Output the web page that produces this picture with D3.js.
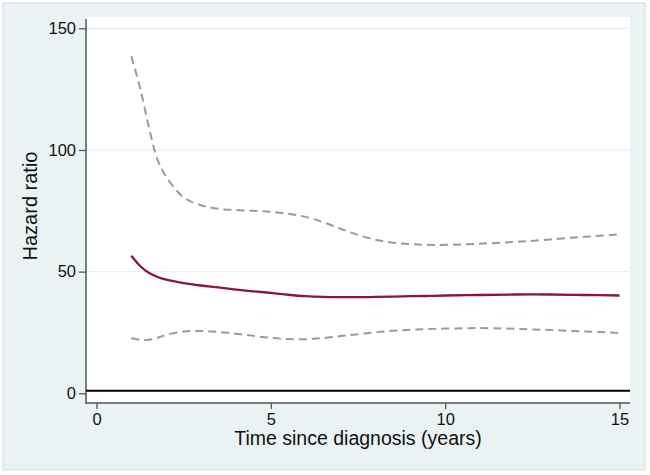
<!DOCTYPE html>
<html>
<head>
<meta charset="utf-8">
<script src="https://cdn.jsdelivr.net/npm/d3@7"></script>
<style>
  html, body { margin: 0; padding: 0; background: #fff; }
  svg { display: block; font-family: "Liberation Sans", Arial, Helvetica, sans-serif; }
</style>
</head>
<body>
<svg id="chart" width="650" height="475"></svg>
<script>
// ---- data ----
const years = [1, 1.25, 1.5, 1.75, 2, 2.5, 3, 3.5, 4, 4.5, 5, 5.5, 6, 6.5, 7, 7.5, 8, 8.5, 9, 9.5, 10, 11, 12, 13, 14, 15];
const hazardRatio = [56.5, 52.3, 49.5, 47.8, 46.7, 45.3, 44.3, 43.5, 42.6, 41.9, 41.3, 40.5, 39.9, 39.6, 39.5, 39.5, 39.6, 39.7, 39.9, 40.0, 40.2, 40.4, 40.6, 40.6, 40.4, 40.2];
const upperCI    = [138.5, 125.5, 109.6, 96, 89, 80.5, 77.3, 75.8, 75.3, 75, 74.6, 73.8, 72.5, 70.3, 67.6, 65.1, 63.1, 61.9, 61.3, 61, 61, 61.5, 62.2, 63.2, 64.3, 65.3];
const lowerCI    = [22.6, 22, 22, 22.8, 24, 25.4, 25.6, 25.2, 24.5, 23.6, 22.8, 22.3, 22.2, 22.7, 23.5, 24.3, 25.1, 25.7, 26.1, 26.4, 26.6, 26.8, 26.5, 26, 25.4, 24.8];
const xTicks = [0, 5, 10, 15];
const yTicks = [0, 50, 100, 150];
const refValue = 1;
const xTitle = "Time since diagnosis (years)";
const yTitle = "Hazard ratio";

// ---- layout ----
const svg = d3.select("#chart");
const plot = { left: 86, right: 630, top: 17, bottom: 403 };

const x = d3.scaleLinear().domain([0, 15]).range([96.5, 619.5]);
const y = d3.scaleLinear().domain([0, 150]).range([393.3, 28.3]);

// outer background
svg.append("rect").attr("x", 3).attr("y", 3).attr("width", 642).attr("height", 467)
  .attr("fill", "#eaf2f3").attr("stroke", "#d6dcdd").attr("stroke-width", 1);

// plot region
svg.append("rect").attr("x", plot.left).attr("y", plot.top)
  .attr("width", plot.right - plot.left).attr("height", plot.bottom - plot.top)
  .attr("fill", "#ffffff");

// gridlines
svg.append("g").selectAll("line").data(yTicks.filter(d => d > 0)).join("line")
  .attr("x1", plot.left).attr("x2", plot.right)
  .attr("y1", d => y(d)).attr("y2", d => y(d))
  .attr("stroke", "#e6eff0").attr("stroke-width", 1.2);

// y axis
const yAxis = d3.axisLeft(y).tickValues(yTicks).tickSize(7).tickPadding(3).tickFormat(d3.format("d"));
const gy = svg.append("g").attr("transform", `translate(${plot.left},0)`).call(yAxis);
gy.select(".domain").remove();
gy.selectAll(".tick line").attr("stroke", "#555").attr("stroke-width", 1.3);
gy.selectAll(".tick text").attr("font-size", 16.5).attr("fill", "#111")
  .attr("font-family", "'Liberation Sans', Arial, sans-serif");
svg.append("line").attr("x1", plot.left).attr("x2", plot.left)
  .attr("y1", plot.top + 2).attr("y2", plot.bottom + 1)
  .attr("stroke", "#555").attr("stroke-width", 1.5);

// x axis
const xAxis = d3.axisBottom(x).tickValues(xTicks).tickSize(6).tickPadding(4).tickFormat(d3.format("d"));
const gx = svg.append("g").attr("transform", `translate(0,${plot.bottom})`).call(xAxis);
gx.select(".domain").remove();
gx.selectAll(".tick line").attr("stroke", "#555").attr("stroke-width", 1.3);
gx.selectAll(".tick text").attr("font-size", 16.5).attr("fill", "#111")
  .attr("font-family", "'Liberation Sans', Arial, sans-serif");
svg.append("line").attr("x1", plot.left).attr("x2", plot.right)
  .attr("y1", plot.bottom).attr("y2", plot.bottom)
  .attr("stroke", "#555").attr("stroke-width", 1.5);

// reference line at HR = 1
svg.append("line").attr("x1", plot.left).attr("x2", plot.right)
  .attr("y1", y(refValue)).attr("y2", y(refValue))
  .attr("stroke", "#000").attr("stroke-width", 2);

// lines
const line = vals => d3.line()
  .x((d, i) => x(years[i]))
  .y(d => y(d))
  .curve(d3.curveCatmullRom.alpha(0.5))(vals);

svg.append("path").attr("d", line(upperCI)).attr("fill", "none")
  .attr("stroke", "#9a9a9a").attr("stroke-width", 2).attr("stroke-dasharray", "8,5");
svg.append("path").attr("d", line(lowerCI)).attr("fill", "none")
  .attr("stroke", "#9a9a9a").attr("stroke-width", 2).attr("stroke-dasharray", "8,5");
svg.append("path").attr("d", line(hazardRatio)).attr("fill", "none")
  .attr("stroke", "#8c1248").attr("stroke-width", 2.3);

// titles
svg.append("text").attr("x", (plot.left + plot.right) / 2).attr("y", 445)
  .attr("text-anchor", "middle").attr("font-size", 19.5).attr("fill", "#111").text(xTitle);
svg.append("text").attr("transform", `translate(36.5,${(plot.top + plot.bottom) / 2 - 4}) rotate(-90)`)
  .attr("text-anchor", "middle").attr("font-size", 20).attr("fill", "#111").text(yTitle);
</script>
</body>
</html>
